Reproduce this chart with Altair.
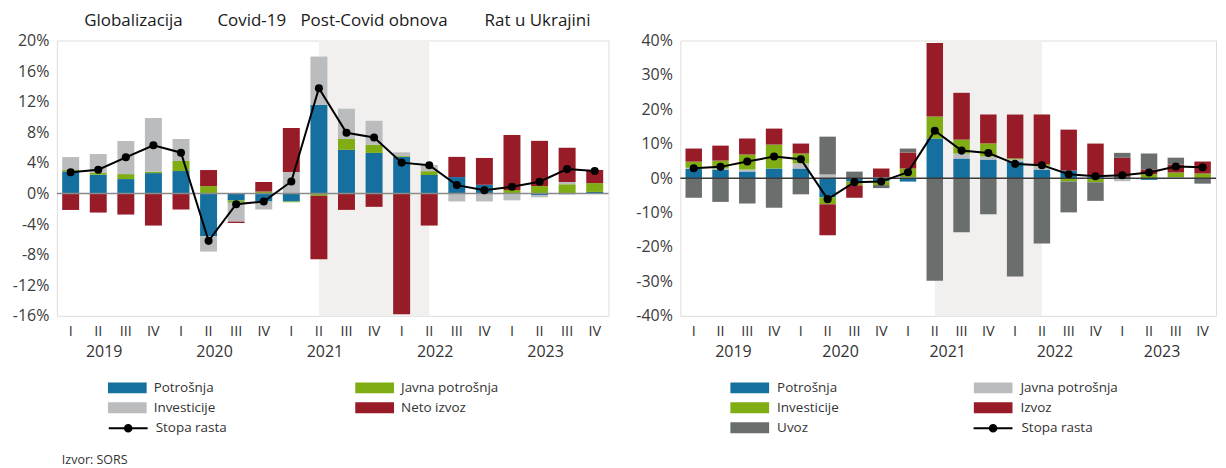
import altair as alt
import pandas as pd

FONT = "Open Sans"

years = ["2019", "2020", "2021", "2022", "2023"]
quarters = ["I", "II", "III", "IV"]
periods = [f"{y}-{q}" for y in years for q in quarters]

# ---------------- left chart: contributions to growth (%) ----------------
left_names = ["Potrošnja", "Javna potrošnja", "Investicije", "Neto izvoz"]
left_colors = ["#15709f", "#80ad13", "#bbbcbe", "#981c28"]
left_legend_order = ["Potrošnja", "Investicije", "Javna potrošnja", "Neto izvoz"]
potrosnja_L = [2.88, 2.45, 1.88, 2.66, 2.93, -5.6, -0.92, -1.05, -1.05, 11.6,
               5.7, 5.3, 4.78, 2.41, 2.14, 1.13, -0.1, -0.25, -0.1, 0.2]
javna_L = [0.18, 0.25, 0.65, 0.18, 1.31, 0.96, -0.3, 0.25, -0.1, -0.3,
           1.43, 1.06, 0.1, 0.5, 0.0, 0.0, 0.45, 0.96, 1.19, 1.15]
investicije_L = [1.7, 2.45, 4.33, 7.03, 2.88, -2.0, -2.46, -1.05, 2.8, 6.3,
                 3.95, 3.14, 0.5, 0.8, -1.05, -1.05, -0.8, -0.25, 0.3, 0.0]
neto_izvoz_L = [-2.16, -2.5, -2.76, -4.2, -2.1, 2.1, -0.18, 1.25, 5.76, -8.3,
                -2.15, -1.75, -15.8, -4.2, 2.64, 3.51, 7.2, 5.92, 4.47, 1.72]
stopa_L = [2.76, 3.1, 4.72, 6.29, 5.33, -6.2, -1.4, -1.05, 1.57, 13.76,
           7.93, 7.32, 4.03, 3.68, 1.09, 0.43, 0.87, 1.53, 3.18, 2.93]
left_ticks = [-16, -12, -8, -4, 0, 4, 8, 12, 16, 20]

# ---------------- right chart ----------------
right_names = ["Potrošnja", "Javna potrošnja", "Investicije", "Izvoz", "Uvoz"]
right_colors = ["#15709f", "#bbbcbe", "#80ad13", "#981c28", "#6a6f6e"]
right_legend_order = ["Potrošnja", "Investicije", "Uvoz", "Javna potrošnja", "Izvoz"]
potrosnja_R = [2.7, 2.5, 1.9, 2.8, 2.8, -5.6, -1.0, -0.9, -1.0, 11.5,
               5.7, 5.4, 4.83, 2.5, 2.2, 0.4, 0.4, -0.5, -0.1, 0.0]
javna_R = [0.3, 0.3, 0.6, 0.0, 1.45, 1.06, 0.0, 0.3, 0.3, 0.0,
           1.45, 0.9, 0.6, 0.9, 0.0, 0.35, -0.9, 0.0, 0.3, 0.0]
investicije_R = [1.8, 2.3, 4.35, 6.96, 2.9, -2.0, -1.1, -1.1, 2.5, 6.4,
                 4.05, 3.8, 0.3, 0.6, -0.95, -1.2, 0.0, 1.16, 1.35, 1.35]
izvoz_R = [3.8, 4.35, 4.64, 4.64, 2.9, -9.0, -3.6, 2.5, 4.64, 21.4,
           13.6, 8.4, 12.75, 14.5, 11.9, 9.3, 5.5, 1.35, 2.3, 3.48]
uvoz_R = [-5.7, -6.9, -7.4, -8.6, -4.7, 11.0, 1.9, -0.9, 1.16, -29.8,
          -15.7, -10.5, -28.6, -19.0, -9.0, -5.4, 1.45, 4.65, 2.0, -1.6]
stopa_R = [2.9, 3.28, 4.83, 6.28, 5.5, -6.1, -1.16, -1.0, 1.74, 13.8,
           8.0, 7.3, 4.15, 3.77, 1.16, 0.58, 0.87, 1.64, 3.38, 3.19]
right_ticks = [-40, -30, -20, -10, 0, 10, 20, 30, 40]

shade_period = ["2021-II", "2022-II"]
annotations = ["Globalizacija", "Covid-19", "Post-Covid obnova", "Rat u Ukrajini"]
annotation_anchor = ["2019-IV", "2020-IV", "2021-IV", "2023-II"]
line_label = "Stopa rasta"
source_text = "Izvor: SORS"

RECT = "M-1,-0.28H1V0.28H-1Z"
LINESYM = ("M-1,0H1"
           "M-0.17,0A0.17,0.17,0,1,1,0.17,0A0.17,0.17,0,1,1,-0.17,0"
           "M-0.09,0A0.09,0.09,0,1,1,0.09,0A0.09,0.09,0,1,1,-0.09,0"
           "M-0.02,0A0.02,0.02,0,1,1,0.02,0A0.02,0.02,0,1,1,-0.02,0")

H = 276


def build_panel(names, colors, legend_order, values, growth, ymin, ymax, ticks,
                width, zero_color, leg_x, line_leg_x, leg_col_pad,
                label_offset, year_dx, annot=False, source=False):
    rows = []
    for k, (n, vals) in enumerate(zip(names, values)):
        for p, v in zip(periods, vals):
            rows.append({"period": p, "comp": n, "value": v, "ord": k})
    df = pd.DataFrame(rows)
    gdf = pd.DataFrame({"period": periods, "g": growth, "s": line_label})
    color_map = dict(zip(names, colors))

    xscale = alt.Scale(domain=periods, paddingInner=0.385, paddingOuter=0.1925)
    xaxis = alt.Axis(title=None, domain=False, ticks=False, tickSize=0,
                     labelExpr="split(datum.value, '-')[1]", labelAngle=0,
                     labelFont=FONT, labelFontSize=14.5, labelColor="#333333",
                     labelPadding=9)
    yscale = alt.Scale(domain=[ymin, ymax], nice=False, zero=False)
    yaxis = alt.Axis(title=None, values=ticks, labelExpr="datum.value + '%'",
                     grid=False, domain=False, ticks=False, tickSize=0,
                     labelFont=FONT, labelFontSize=16, labelColor="#3c3c3c",
                     labelPadding=8)

    def X(field="period", **kw):
        return alt.X(f"{field}:N", sort=periods, scale=xscale, axis=xaxis,
                     title=None, **kw)

    sdf = pd.DataFrame({"start": [shade_period[0]], "end": [shade_period[1]]})
    shade = alt.Chart(sdf).mark_rect(color="#f1f0ee").encode(
        x=X("start", bandPosition=0.5),
        x2=alt.X2("end:N", bandPosition=0.5),
        y=alt.value(0), y2=alt.value(H))

    bars = alt.Chart(df).mark_bar().encode(
        x=X(),
        y=alt.Y("value:Q", stack="zero", scale=yscale, axis=yaxis, title=None),
        color=alt.Color("comp:N",
                        scale=alt.Scale(domain=legend_order,
                                        range=[color_map[n] for n in legend_order]),
                        legend=alt.Legend(
                            orient="none", legendX=leg_x, legendY=340.2,
                            title=None, columns=2, columnPadding=leg_col_pad,
                            rowPadding=4, padding=0, clipHeight=16,
                            symbolType=RECT, symbolSize=1521,
                            symbolStrokeWidth=0, labelFont=FONT,
                            labelFontSize=13.5, labelColor="#333333",
                            labelOffset=label_offset, labelLimit=400)),
        order=alt.Order("ord:Q", sort="ascending"))

    zero = alt.Chart(pd.DataFrame({"z": [0]})).mark_rule(
        color=zero_color, strokeWidth=1.5).encode(
        y=alt.Y("z:Q", scale=yscale, axis=yaxis, title=None))

    line = alt.Chart(gdf).mark_line(strokeWidth=2).encode(
        x=X(),
        y=alt.Y("g:Q", scale=yscale, axis=yaxis, title=None),
        stroke=alt.Stroke("s:N", scale=alt.Scale(domain=[line_label],
                                                 range=["#000000"]),
                          legend=alt.Legend(
                              orient="none", legendX=line_leg_x, legendY=380.7,
                              title=None, padding=0, clipHeight=16,
                              symbolType=LINESYM,
                              symbolSize=1521, symbolStrokeWidth=2,
                              labelFont=FONT, labelFontSize=13.5,
                              labelColor="#333333", labelOffset=label_offset)))
    pts = alt.Chart(gdf).mark_circle(size=65, color="#000000", opacity=1).encode(
        x=X(), y=alt.Y("g:Q", scale=yscale, axis=yaxis, title=None))

    ydf = pd.DataFrame({"p": [f"{y}-II" for y in years], "year": years})
    yrs = alt.Chart(ydf).mark_text(font=FONT, fontSize=16, color="#333333",
                                   baseline="middle", dx=year_dx).encode(
        x=X("p"), y=alt.value(H + 36), text="year:N")

    layers = [shade, bars, zero, line, pts, yrs]

    if annot:
        dxs = [-20, -12, 0, -2]
        for txt, anc, dx in zip(annotations, annotation_anchor, dxs):
            adf = pd.DataFrame({"p": [anc], "t": [txt]})
            layers.append(alt.Chart(adf).mark_text(
                font=FONT, fontSize=17, color="#1a1a1a", baseline="middle",
                dx=dx).encode(x=X("p"), y=alt.value(-19.3), text="t:N"))
    if source:
        srcdf = pd.DataFrame({"t": [source_text]})
        layers.append(alt.Chart(srcdf).mark_text(
            font=FONT, fontSize=12.5, color="#333333", align="left",
            baseline="middle").encode(x=alt.value(5), y=alt.value(420.5),
                                      text="t:N"))

    return alt.layer(*layers).properties(width=width, height=H)


left = build_panel(left_names, left_colors, left_legend_order,
                   [potrosnja_L, javna_L, investicije_L, neto_izvoz_L],
                   stopa_L, -16, 20, left_ticks, 553, "#8a8a8a",
                   51, 51, 140, 7, 6, annot=True, source=True)
right = build_panel(right_names, right_colors, right_legend_order,
                    [potrosnja_R, javna_R, investicije_R, izvoz_R, uvoz_R],
                    stopa_R, -40, 40, right_ticks, 537, "#3a3a3a",
                    50, 293, 135, 8, 13)

chart = alt.hconcat(left, right, spacing=72, bounds="flush").resolve_scale(
    x="independent", y="independent", color="independent",
    stroke="independent").resolve_legend(
    color="independent", stroke="independent").properties(
    padding={"left": 3, "top": 3, "right": 0, "bottom": 0}).configure_view(
    stroke=None).configure(font=FONT)

chart.save("out.html", embed_options={"renderer": "svg", "actions": False})
